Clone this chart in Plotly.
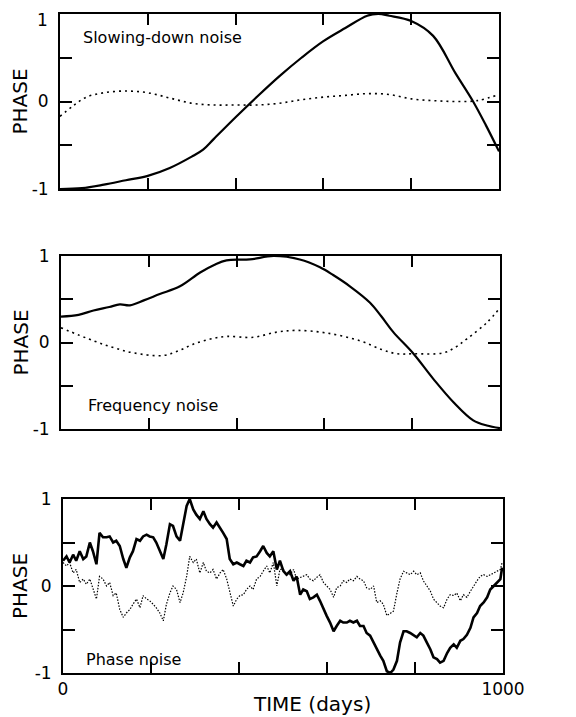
import plotly.graph_objects as go

# ---------------- data ----------------
# Panel 1: slowing-down noise
slow_solid_days = [0, 50, 100, 150, 200, 250, 300, 326, 350, 400, 450, 500, 550, 600, 650,
                   700, 725, 750, 800, 850, 900, 941, 970, 1000]
slow_solid_phase = [-1.0, -0.99, -0.95, -0.90, -0.85, -0.76, -0.63, -0.55, -0.43, -0.18, 0.06,
                    0.29, 0.50, 0.69, 0.84, 0.98, 1.0, 0.98, 0.92, 0.75, 0.33, 0.0, -0.27, -0.57]
slow_dot_days = [0, 30, 60, 100, 150, 200, 250, 300, 350, 400, 450, 500, 550, 600, 650,
                 700, 750, 800, 850, 900, 950, 1000]
slow_dot_phase = [-0.17, -0.05, 0.05, 0.10, 0.12, 0.10, 0.04, -0.02, -0.04, -0.04, -0.04,
                  -0.02, 0.02, 0.05, 0.07, 0.09, 0.08, 0.03, 0.01, 0.0, 0.01, 0.08]

# Panel 2: frequency noise
freq_solid_days = [0, 40, 74, 110, 134, 157, 190, 225, 271, 317, 350, 377, 430, 484, 544,
                   590, 620, 658, 704, 730, 757, 803, 848, 894, 939, 970, 1000]
freq_solid_phase = [0.30, 0.32, 0.37, 0.41, 0.44, 0.43, 0.49, 0.56, 0.65, 0.81, 0.90, 0.95,
                    0.96, 1.0, 0.96, 0.87, 0.78, 0.65, 0.46, 0.30, 0.12, -0.13, -0.42, -0.69,
                    -0.90, -0.96, -0.99]
freq_dot_days = [0, 74, 120, 165, 233, 270, 301, 340, 377, 438, 491, 537, 605, 681, 730,
                 765, 803, 871, 900, 924, 970, 1000]
freq_dot_phase = [0.17, 0.02, -0.06, -0.12, -0.15, -0.09, -0.02, 0.04, 0.07, 0.06, 0.12,
                  0.14, 0.11, 0.02, -0.08, -0.13, -0.13, -0.12, -0.05, 0.04, 0.23, 0.40]

# Panel 3: phase noise (sampled every ~7.6 days)
phase_days = [0, 8, 15, 23, 30, 38, 46, 53, 61, 68, 76, 83, 91, 99, 106, 114, 121, 129, 137,
              144, 152, 159, 167, 175, 182, 190, 197, 205, 212, 220, 228, 235, 243, 250, 258,
              266, 273, 281, 288, 296, 303, 311, 319, 326, 334, 341, 349, 357, 364, 372, 379,
              387, 395, 402, 410, 417, 425, 432, 440, 448, 455, 463, 470, 478, 486, 493, 501,
              508, 516, 524, 531, 539, 546, 554, 561, 569, 577, 584, 592, 599, 607, 615, 622,
              630, 637, 645, 652, 660, 668, 675, 683, 690, 698, 706, 713, 721, 728, 736, 744,
              751, 759, 766, 774, 781, 789, 797, 804, 812, 819, 827, 835, 842, 850, 857, 865,
              873, 880, 888, 895, 903, 910, 918, 926, 933, 941, 948, 956, 964, 971, 979, 986,
              994, 998]
phase_solid = [0.29, 0.34, 0.27, 0.36, 0.29, 0.40, 0.31, 0.34, 0.50, 0.40, 0.25, 0.61, 0.56,
               0.56, 0.57, 0.50, 0.52, 0.46, 0.31, 0.21, 0.33, 0.40, 0.54, 0.52, 0.57, 0.59,
               0.57, 0.56, 0.50, 0.40, 0.31, 0.48, 0.71, 0.69, 0.57, 0.52, 0.69, 0.92, 1.00,
               0.88, 0.82, 0.77, 0.86, 0.77, 0.71, 0.67, 0.73, 0.67, 0.61, 0.54, 0.31, 0.25,
               0.27, 0.25, 0.23, 0.29, 0.27, 0.33, 0.34, 0.40, 0.46, 0.38, 0.34, 0.40, 0.19,
               0.29, 0.17, 0.13, 0.17, 0.06, 0.11, -0.10, -0.04, -0.06, -0.15, -0.13, -0.10,
               -0.17, -0.27, -0.34, -0.42, -0.52, -0.46, -0.40, -0.42, -0.42, -0.40, -0.42,
               -0.40, -0.46, -0.46, -0.54, -0.57, -0.65, -0.73, -0.80, -0.86, -0.98, -1.00,
               -0.96, -0.86, -0.65, -0.52, -0.52, -0.54, -0.57, -0.59, -0.54, -0.57, -0.65,
               -0.73, -0.82, -0.84, -0.88, -0.86, -0.77, -0.71, -0.67, -0.71, -0.63, -0.61,
               -0.56, -0.48, -0.36, -0.31, -0.23, -0.19, -0.13, -0.04, 0.00, 0.04, 0.08, 0.21]
phase_dot = [0.27, 0.23, 0.27, 0.15, 0.19, 0.04, 0.08, 0.02, 0.08, -0.02, -0.15, 0.11, 0.08,
             0.00, 0.04, -0.11, -0.08, -0.27, -0.36, -0.31, -0.27, -0.21, -0.15, -0.25, -0.11,
             -0.15, -0.17, -0.21, -0.25, -0.31, -0.40, -0.21, -0.08, 0.00, -0.04, -0.19, -0.08,
             0.11, 0.34, 0.27, 0.31, 0.15, 0.27, 0.17, 0.15, 0.19, 0.08, 0.15, 0.19, 0.08,
             -0.08, -0.23, -0.15, -0.11, -0.10, -0.04, 0.00, -0.04, 0.08, 0.11, 0.17, 0.23,
             0.15, 0.27, 0.00, 0.19, 0.19, 0.13, 0.13, 0.19, 0.08, 0.10, 0.11, 0.13, 0.08,
             0.06, 0.10, 0.13, 0.04, 0.00, -0.04, -0.13, -0.02, 0.00, 0.06, 0.04, 0.08, 0.06,
             0.11, 0.08, 0.06, -0.02, -0.04, 0.00, -0.19, -0.17, -0.21, -0.34, -0.31, -0.29,
             -0.08, 0.08, 0.17, 0.15, 0.13, 0.17, 0.13, 0.15, 0.06, 0.00, -0.06, -0.15, -0.19,
             -0.23, -0.25, -0.15, -0.10, -0.11, -0.08, -0.17, -0.10, -0.13, -0.06, 0.00, 0.06,
             0.11, 0.13, 0.11, 0.13, 0.15, 0.17, 0.19, 0.27]

x_tickvals = [0, 200, 400, 600, 800, 1000]
x_ticktext = ["0", "", "", "", "", "1000"]
y_tickvals = [-1, -0.5, 0, 0.5, 1]
y_ticktext = ["-1", "", "0", "", "1"]
y_ticktext_top = ["-1", "", "0", "", ""]   # top "1" is placed just below the frame edge

panel_labels = ["Slowing-down noise", "Frequency noise", "Phase noise"]

# ---------------- figure ----------------
FONT = "DejaVu Sans"
OFF = 8  # page body margin of the html page
W, H = 576 - OFF, 717 - OFF

# plot area in page pixels (reference): left 60, right 503, top 14, bottom 673
L = 60 - OFF
T = 14 - OFF
R = W - (503 - OFF)
B = H - (673 - OFF)
pw = W - L - R
ph = H - T - B


def px_x(x):  # page pixel -> paper x
    return (x - OFF - L) / pw


def px_y(y):  # page pixel -> paper y
    return (H - B - (y - OFF)) / ph


panels = [
    ([px_x(60), px_x(499)], [px_y(189), px_y(14)]),
    ([px_x(61), px_x(500)], [px_y(429), px_y(256)]),
    ([px_x(63), px_x(503)], [px_y(673), px_y(499)]),
]

fig = go.Figure()

solid = dict(color="black", width=2.2)
dotted = dict(color="black", width=1.6, dash="2px,4px")

fig.add_trace(go.Scatter(x=slow_solid_days, y=slow_solid_phase, mode="lines",
                         line=dict(**solid, shape="spline"), xaxis="x", yaxis="y"))
fig.add_trace(go.Scatter(x=slow_dot_days, y=slow_dot_phase, mode="lines",
                         line=dict(**dotted, shape="spline"), xaxis="x", yaxis="y"))
fig.add_trace(go.Scatter(x=freq_solid_days, y=freq_solid_phase, mode="lines",
                         line=dict(**solid, shape="spline"), xaxis="x2", yaxis="y2"))
fig.add_trace(go.Scatter(x=freq_dot_days, y=freq_dot_phase, mode="lines",
                         line=dict(**dotted, shape="spline"), xaxis="x2", yaxis="y2"))
fig.add_trace(go.Scatter(x=phase_days, y=phase_solid, mode="lines",
                         line=dict(color="black", width=2.6), xaxis="x3", yaxis="y3"))
fig.add_trace(go.Scatter(x=phase_days, y=phase_dot, mode="lines",
                         line=dict(color="black", width=1.2, dash="1.5px,1.5px"),
                         xaxis="x3", yaxis="y3"))

axis_common = dict(range=[0, 1000], showline=True, linewidth=2, linecolor="black",
                   mirror="ticks", ticks="inside", ticklen=11, tickwidth=2, tickcolor="black",
                   tickvals=x_tickvals, ticktext=x_ticktext, showgrid=False, zeroline=False,
                   automargin=False, ticklabeloverflow="allow",
                   tickfont=dict(family=FONT, size=17, color="black"))
yaxis_common = dict(range=[-1, 1], showline=True, linewidth=2, linecolor="black",
                    mirror="ticks", ticks="inside", ticklen=12, tickwidth=2, tickcolor="black",
                    tickvals=y_tickvals, showgrid=False, zeroline=False,
                    ticklabelstandoff=6, automargin=False, ticklabeloverflow="allow",
                    tickfont=dict(family=FONT, size=17, color="black"))

layout = dict(width=W, height=H, margin=dict(l=L, r=R, t=T, b=B, pad=0),
              paper_bgcolor="white", plot_bgcolor="white", showlegend=False,
              font=dict(family=FONT, color="black"))

for i, (xd, yd) in enumerate(panels):
    sfx = "" if i == 0 else str(i + 1)
    layout["xaxis" + sfx] = dict(axis_common, domain=xd, anchor="y" + sfx,
                                 showticklabels=(i == 2))
    layout["yaxis" + sfx] = dict(yaxis_common, domain=yd, anchor="x" + sfx,
                                 ticktext=(y_ticktext_top if i == 0 else y_ticktext))

fig.update_layout(**layout)

# top "1" label, sitting just under the top edge as in the original
fig.add_annotation(x=px_x(50), y=px_y(20), xref="paper", yref="paper", text="1",
                   showarrow=False, xanchor="right", yanchor="middle",
                   font=dict(family=FONT, size=17, color="black"))

# panel labels
label_pos = [(48, 0.73), (57, -0.73), (48, -0.85)]
for i, (txt, (lx, ly)) in enumerate(zip(panel_labels, label_pos)):
    sfx = "" if i == 0 else str(i + 1)
    fig.add_annotation(x=lx, y=ly, xref="x" + sfx, yref="y" + sfx, text=txt,
                       showarrow=False, xanchor="left", yanchor="middle",
                       font=dict(family=FONT, size=16, color="black"))

# PHASE axis titles
for (xd, yd) in panels:
    fig.add_annotation(x=px_x(20), y=(yd[0] + yd[1]) / 2, xref="paper", yref="paper",
                       text="PHASE", textangle=-90, showarrow=False,
                       xanchor="center", yanchor="middle",
                       font=dict(family=FONT, size=20, color="black"))

# x axis title
fig.add_annotation(x=px_x(312), y=px_y(704), xref="paper", yref="paper",
                   text="TIME (days)", showarrow=False, xanchor="center", yanchor="middle",
                   font=dict(family=FONT, size=20, color="black"))

fig.write_html("out.html")
